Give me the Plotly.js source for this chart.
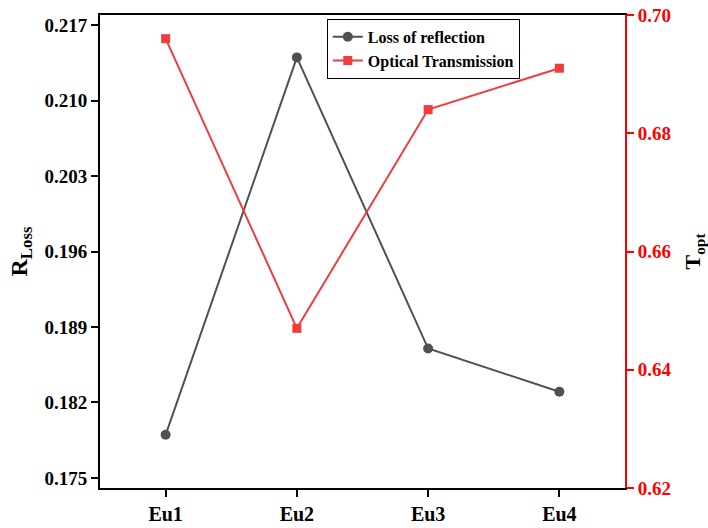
<!DOCTYPE html>
<html><head><meta charset="utf-8">
<script src="https://cdn.plot.ly/plotly-3.0.1.min.js"></script>
<style>html,body{margin:0;padding:0;background:#fff}#chart{width:708px;height:528px}</style>
</head><body><div id="chart"></div>
<script>
var categories = ['Eu1', 'Eu2', 'Eu3', 'Eu4'];
var lossOfReflection = [0.179, 0.214, 0.187, 0.183];
var opticalTransmission = [0.696, 0.647, 0.684, 0.691];
var leftTicks = [0.175, 0.182, 0.189, 0.196, 0.203, 0.210, 0.217];
var rightTicks = [0.62, 0.64, 0.66, 0.68, 0.70];

var font = 'Liberation Serif, Times New Roman, serif';
var traces = [
  {x: categories, y: lossOfReflection, name: 'Loss of reflection', type: 'scatter', mode: 'lines+markers',
   line: {color: '#505050', width: 2}, marker: {symbol: 'circle', size: 10, color: '#505050'}},
  {x: categories, y: opticalTransmission, name: 'Optical Transmission', type: 'scatter', mode: 'lines+markers', yaxis: 'y2',
   line: {color: '#f03c3c', width: 2}, marker: {symbol: 'square', size: 9, color: '#f03c3c'}}
];
var layout = {
  width: 708, height: 528,
  margin: {l: 100, r: 83, t: 15, b: 40},
  paper_bgcolor: '#fff', plot_bgcolor: '#fff',
  font: {family: font, size: 18, color: '#000'},
  showlegend: true,
  legend: {x: 0.432, y: 0.992, xanchor: 'left', yanchor: 'top', bgcolor: '#fff', bordercolor: '#000', borderwidth: 1,
           font: {family: font, size: 16, color: '#000', weight: 'bold'}, tracegroupgap: 0, itemwidth: 30,
           entrywidth: 0},
  xaxis: {type: 'category', range: [-0.5, 3.5], showline: true, linecolor: '#000', linewidth: 2, mirror: true,
          ticks: 'outside', ticklen: 7, tickwidth: 2, tickcolor: '#000', showgrid: false, zeroline: false,
          tickfont: {family: font, size: 20, color: '#000', weight: 'bold'}},
  yaxis: {range: [0.17407, 0.21793], tickvals: leftTicks, tickformat: '.3f', showline: true, linecolor: '#000', linewidth: 2,
          ticks: 'outside', ticklen: 7, tickwidth: 2, tickcolor: '#000', showgrid: false, zeroline: false,
          tickfont: {family: font, size: 19, color: '#000', weight: 'bold'},
          title: {text: 'R<sub>Loss</sub>', standoff: 10, font: {family: font, size: 24, color: '#000', weight: 'bold'}}},
  yaxis2: {overlaying: 'y', side: 'right', range: [0.62, 0.70], tickvals: rightTicks, tickformat: '.2f',
           showline: true, linecolor: '#ff0000', linewidth: 2, ticks: 'outside', ticklen: 7, tickwidth: 2, tickcolor: '#ff0000',
           showgrid: false, zeroline: false, tickfont: {family: font, size: 19, color: '#ff0000', weight: 'bold'},
           title: {text: 'T<sub>opt</sub>', standoff: 16, font: {family: font, size: 22, color: '#000', weight: 'bold'}}}
};
Plotly.newPlot('chart', traces, layout, {displayModeBar: false, staticPlot: true});
</script></body></html>
